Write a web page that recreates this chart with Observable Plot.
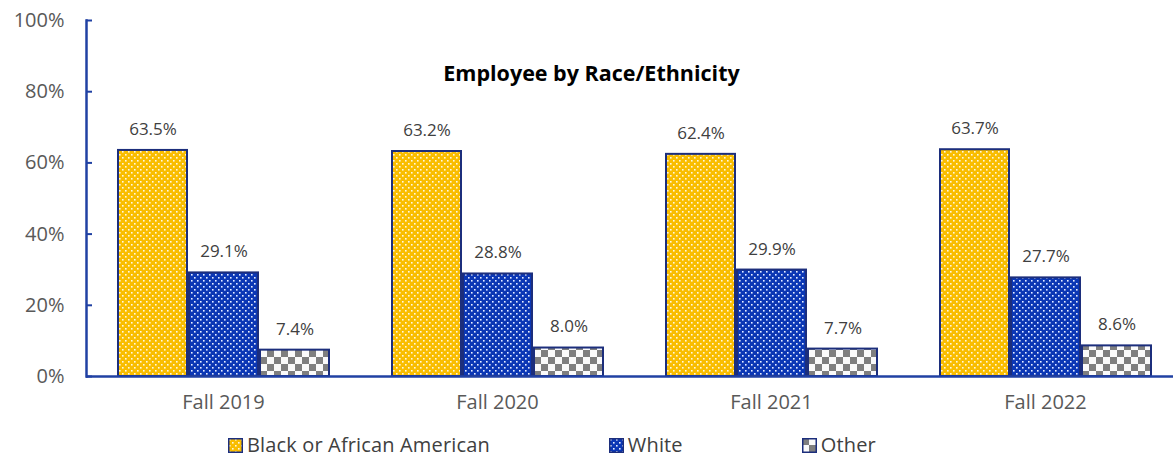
<!DOCTYPE html>
<html>
<head>
<meta charset="utf-8">
<script src="https://cdn.jsdelivr.net/npm/d3@7"></script>
<script src="https://cdn.jsdelivr.net/npm/@observablehq/plot@0.6"></script>
<style>
  body { margin: 0; background: #fff; font-family: "Open Sans", sans-serif; }
  #wrap { position: relative; width: 1173px; height: 460px; }
  #title { position: absolute; left: 0; right: 0; top: 58px; text-align: center; font-weight: bold; font-size: 21.5px; line-height: 30px; color: #000; padding-left: 10px; }
  #legend { position: absolute; top: 435px; left: 228px; display: flex; align-items: center; gap: 119px; font-size: 20px; letter-spacing: 0.15px; line-height: 20px; color: #404040; }
  .item { display: flex; align-items: center; gap: 4px; }
</style>
</head>
<body>
<svg width="0" height="0" style="position:absolute">
  <defs>
    <pattern id="dotsyellow" patternUnits="userSpaceOnUse" width="6" height="6">
      <rect width="6" height="6" fill="#f9bd00"></rect>
      <rect x="1" y="1" width="1.6" height="1.6" fill="#fff8e0"></rect>
      <rect x="4" y="4" width="1.6" height="1.6" fill="#fff8e0"></rect>
    </pattern>
    <pattern id="dotsblue" patternUnits="userSpaceOnUse" width="6" height="6">
      <rect width="6" height="6" fill="#0b37b5"></rect>
      <rect x="1" y="1" width="1.6" height="1.6" fill="#e8eeff"></rect>
      <rect x="4" y="4" width="1.6" height="1.6" fill="#e8eeff"></rect>
    </pattern>
    <pattern id="checker" patternUnits="userSpaceOnUse" width="14" height="14">
      <rect width="14" height="14" fill="#fafafa"></rect>
      <rect x="0" y="0" width="7" height="7" fill="#7f7f7f"></rect>
      <rect x="7" y="7" width="7" height="7" fill="#7f7f7f"></rect>
    </pattern>
  </defs>
</svg>
<div id="wrap">
  <div id="chart"></div>
  <div id="title">Employee by Race/Ethnicity</div>
  <div id="legend"></div>
</div>
<script>
const years = ["Fall 2019", "Fall 2020", "Fall 2021", "Fall 2022"];
const seriesNames = ["Black or African American", "White", "Other"];
const blackValues = [63.5, 63.2, 62.4, 63.7];
const whiteValues = [29.1, 28.8, 29.9, 27.7];
const otherValues = [7.4, 8.0, 7.7, 8.6];
const yTicks = [0, 20, 40, 60, 80, 100];

const fills = {
  "Black or African American": "url(#dotsyellow)",
  "White": "url(#dotsblue)",
  "Other": "url(#checker)"
};

const seriesValues = [blackValues, whiteValues, otherValues];
const rows = [];
years.forEach((yr, i) => {
  seriesNames.forEach((s, j) => rows.push({year: yr, series: s, value: seriesValues[j][i]}));
});

const axisColor = "#2041a3";
const barStroke = "#1c2e7c";

const chart = Plot.plot({
  width: 1173,
  height: 425,
  marginTop: 20,
  marginBottom: 49,
  marginLeft: 85,
  marginRight: -10,
  style: {fontFamily: "Open Sans, sans-serif", overflow: "visible"},
  fx: {domain: years, paddingInner: 0, paddingOuter: 0, label: null},
  x: {domain: seriesNames, paddingInner: 0.03, paddingOuter: 0.43, axis: null},
  y: {domain: [0, 100], label: null},
  marks: [
    Plot.axisY(yTicks, {tickSize: 0, tickPadding: 22, tickFormat: d => d + "%", fontSize: 20, color: "#595959", label: null}),
    Plot.axisY(yTicks, {tickSize: -6, tickFormat: () => "", stroke: axisColor, strokeWidth: 2, label: null}),
    Plot.axisFx({anchor: "bottom", tickSize: 0, tickPadding: 18, fontSize: 20, color: "#595959", label: null}),
    ...seriesNames.map(s => Plot.barY(rows, {
      filter: d => d.series === s,
      fx: "year", x: "series", y: "value",
      fill: fills[s], stroke: barStroke, strokeWidth: 2
    })),
    Plot.text(rows, {
      fx: "year", x: "series", y: "value",
      text: d => d.value.toFixed(1) + "%",
      dy: -21, fontSize: 17, fill: "#404040"
    }),
    Plot.ruleY([0], {stroke: axisColor, strokeWidth: 2.5}),
    Plot.frame({anchor: "left", facetAnchor: "left", stroke: axisColor, strokeWidth: 2.5})
  ]
});
document.getElementById("chart").appendChild(chart);

const legend = d3.select("#legend");
seriesNames.forEach(s => {
  const it = legend.append("div").attr("class", "item");
  it.append("svg").attr("width", 15).attr("height", 15).style("display", "block")
    .append("rect").attr("x", 0.75).attr("y", 0.75).attr("width", 13.5).attr("height", 13.5)
    .attr("fill", fills[s]).attr("stroke", barStroke).attr("stroke-width", 1.5);
  it.append("span").text(s);
});
</script>
</body>
</html>
